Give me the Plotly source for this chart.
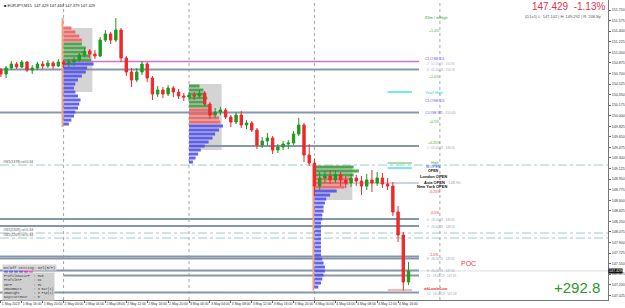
import plotly.graph_objects as go
import pandas as pd

# ---------------- data ----------------
symbol = "EURJPY,M15"
candle_start = "2023-05-01 12:00"      # hourly candles
first_open = 150.756
close = [150.690, 150.790, 150.856, 150.806, 150.889, 150.756, 150.790, 150.856, 150.823, 150.872,
         150.823, 150.889, 150.856, 150.889, 150.922, 151.005, 151.071, 151.021, 150.988, 151.253,
         151.353, 151.253, 151.419, 150.955, 150.723, 150.591, 150.723, 150.856, 150.624, 150.359,
         150.425, 150.359, 150.458, 150.392, 150.326, 150.309, 150.342, 150.326, 150.376, 150.193,
         150.011, 150.061, 150.094, 149.978, 149.895, 150.011, 149.846, 149.879, 149.763, 149.514,
         149.581, 149.630, 149.432, 149.481, 149.531, 149.547, 149.697, 149.846, 149.349, 149.216,
         148.835, 148.968, 149.001, 148.935, 149.018, 148.935, 148.885, 148.968, 148.918, 148.835,
         148.935, 148.885, 148.968, 148.869, 148.835, 148.405, 148.024, 147.246, 147.429]
high = [150.790, 150.823, 150.905, 150.889, 150.922, 150.905, 150.839, 150.889, 150.905, 150.922,
        150.905, 150.939, 150.922, 150.939, 150.972, 151.038, 151.121, 151.104, 151.088, 151.303,
        151.419, 151.386, 151.618, 151.452, 150.988, 150.790, 150.790, 150.905, 150.889, 150.657,
        150.491, 150.475, 150.508, 150.491, 150.442, 150.376, 150.392, 150.392, 150.425, 150.409,
        150.226, 150.127, 150.144, 150.127, 150.011, 150.061, 150.077, 149.928, 149.912, 149.796,
        149.647, 149.713, 149.663, 149.531, 149.581, 149.597, 149.746, 149.962, 149.879, 149.531,
        149.292, 149.067, 149.084, 149.100, 149.100, 149.067, 149.001, 149.034, 149.018, 149.001,
        149.034, 149.100, 149.067, 149.051, 148.968, 148.902, 148.504, 148.074, 147.577]
low = [150.640, 150.624, 150.756, 150.773, 150.790, 150.723, 150.690, 150.756, 150.773, 150.790,
       150.773, 150.806, 150.790, 150.806, 150.823, 150.889, 150.972, 150.955, 150.939, 150.972,
       151.220, 151.187, 151.220, 150.889, 150.657, 150.475, 150.558, 150.674, 150.558, 150.260,
       150.309, 150.293, 150.326, 150.309, 150.276, 150.243, 150.260, 150.260, 150.293, 150.160,
       149.945, 149.962, 150.011, 149.945, 149.812, 149.862, 149.796, 149.779, 149.730, 149.448,
       149.465, 149.498, 149.365, 149.382, 149.432, 149.448, 149.514, 149.663, 149.233, 149.167,
       148.670, 148.769, 148.885, 148.869, 148.885, 148.835, 148.802, 148.819, 148.835, 148.686,
       148.769, 148.736, 148.835, 148.802, 148.769, 148.339, 147.908, 147.102, 147.196]

# daily market profiles: start, price levels, counts (M15 periods), colour codes
profile_starts = ["2023-05-02 00:00", "2023-05-03 00:00", "2023-05-04 00:00"]
profile1_levels = [151.452, 151.386, 151.319, 151.253, 151.187, 151.121, 151.054, 150.988, 150.922, 150.856,
                   150.790, 150.723, 150.657, 150.591, 150.525, 150.458, 150.392, 150.326, 150.260, 150.193,
                   150.127, 150.061, 149.995, 149.928, 149.862]
profile1_counts = [6, 9, 12, 14, 14, 17, 15, 20, 21, 23, 18, 17, 14, 11, 9, 8, 9, 11, 13, 12, 11, 9, 8, 6, 4]
profile1_kind = "rrrrgggggbbbbbbbbbbbbbbbb"
profile2_levels = [150.491, 150.425, 150.359, 150.293, 150.226, 150.160, 150.094, 150.028, 149.962, 149.895,
                   149.829, 149.763, 149.697, 149.630, 149.564, 149.498, 149.432, 149.365, 149.299, 149.233]
profile2_counts = [8, 11, 12, 14, 12, 15, 17, 20, 23, 24, 26, 23, 20, 18, 15, 12, 9, 7, 5, 3]
profile2_kind = "ggggggrrrrbbbbbbbbbb"
profile3_levels = [149.150, 149.084, 149.018, 148.951, 148.885, 148.819, 148.753, 148.686, 148.620, 148.554,
                   148.488, 148.421, 148.355, 148.289, 148.223, 148.156, 148.090, 148.024, 147.958, 147.892,
                   147.825, 147.759, 147.693, 147.627, 147.560, 147.494, 147.428, 147.362, 147.296, 147.229,
                   147.163]
profile3_counts = [30, 34, 30, 27, 26, 23, 17, 12, 9, 8, 7, 7, 6, 6, 5, 5, 5, 5, 5, 5, 5, 5, 5, 6, 7, 8, 8, 7,
                   6, 5, 3]
profile3_kind = "gggrrrbbbbbbbbbbbbbbbbbbbbbbbbb"
value_area_high = [151.452, 150.525, 149.167]
value_area_low = [150.392, 149.432, 148.603]
value_area_counts = [22, 25, 29]
profile_range_high = [151.618, None, 149.183]
profile_range_low = [149.812, None, 147.102]

# horizontal levels
level_prices = [150.897, 150.765, 150.053, 149.498, 148.885, 148.289, 148.173, 147.668, 147.635, 147.436,
                147.353, 147.072]
level_starts = ["2023-05-02 00:00", "2023-05-01 11:00", "2023-05-01 11:00", "2023-05-03 00:00",
                "2023-05-04 00:00", "2023-05-01 11:00", "2023-05-01 11:00", "2023-05-01 11:00",
                "2023-05-01 11:00", "2023-05-01 11:00", "2023-05-02 00:00", "2023-05-01 11:00"]
level_kind = ["close", "lvl", "lvl", "lvl", "thin", "lvl", "lvl", "lvl", "lvl", "lvl", "lvl", "lvl"]
dashdot_prices = [149.183, 148.057, 147.974]
dashdot_texts = ["#W1(1378) ref 0.34", "#W1(2209) ref 0.34", "#W1(2209) ref 0.34"]
day_separators = ["2023-05-02", "2023-05-03", "2023-05-04", "2023-05-05"]

price_ticks = [151.750, 151.575, 151.400, 151.225, 151.050, 150.875, 150.700, 150.525, 150.350, 150.175,
               150.000, 149.825, 149.650, 149.475, 149.300, 149.125, 148.950, 148.775, 148.600, 148.425,
               148.250, 148.075, 147.900, 147.725, 147.550, 147.375, 147.200, 147.025]
time_ticks = ["2023-05-01 12:00", "2023-05-01 16:00", "2023-05-01 20:00", "2023-05-02 00:00",
              "2023-05-02 04:00", "2023-05-02 08:00", "2023-05-02 12:00", "2023-05-02 16:00",
              "2023-05-02 20:00", "2023-05-03 00:00", "2023-05-03 04:00", "2023-05-03 08:00",
              "2023-05-03 12:00", "2023-05-03 16:00", "2023-05-03 20:00", "2023-05-04 00:00",
              "2023-05-04 04:00", "2023-05-04 08:00", "2023-05-04 12:00", "2023-05-04 16:00"]
time_labels = ["1 May 2023", "1 May 16:00", "1 May 20:00", "2 May 00:00", "2 May 04:00", "2 May 08:00",
               "2 May 12:00", "2 May 16:00", "2 May 20:00", "3 May 00:00", "3 May 04:00", "3 May 08:00",
               "3 May 12:00", "3 May 16:00", "3 May 20:00", "4 May 00:00", "4 May 04:00", "4 May 08:00",
               "4 May 12:00", "4 May 16:00"]

last_price = 147.429
change_pct = -1.13
day_low, day_high, day_range = 147.102, 149.292, 208.8
pnl = 292.8

# ---------------- figure ----------------
times = pd.date_range(candle_start, periods=len(close), freq="h")
opens = [first_open] + close[:-1]

GREEN = "#1f9a1f"
RED = "#f02828"
PROF = {"r": "#f25a5a", "g": "#3c9a3c", "b": "#4a4af0"}
LVL = "#8797ab"
FONT = "Liberation Sans"

fig = go.Figure()

# value-area boxes
for st, hi, lo, n in zip(profile_starts, value_area_high, value_area_low, value_area_counts):
    t0 = pd.Timestamp(st)
    fig.add_shape(type="rect", xref="x", yref="y", x0=t0, x1=t0 + pd.Timedelta(minutes=15 * n),
                  y0=lo, y1=hi, fillcolor="#d4d4d4", line=dict(width=0), layer="below")

# horizontal levels
line_end = pd.Timestamp("2023-05-04 20:00")
for p, s, k in zip(level_prices, level_starts, level_kind):
    if k == "close":
        ln = dict(color="#cf72d8", width=1.5)
    elif k == "thin":
        ln = dict(color="#9aa7b8", width=1)
    else:
        ln = dict(color=LVL, width=2)
    fig.add_shape(type="line", xref="x", yref="y", x0=s, x1=line_end, y0=p, y1=p, line=ln, layer="below")

for p in dashdot_prices:
    fig.add_shape(type="line", xref="paper", yref="y", x0=0, x1=1, y0=p, y1=p,
                  line=dict(color="#9ccccc", width=1, dash="dashdot"), layer="below")
# bid line
fig.add_shape(type="line", xref="paper", yref="y", x0=0, x1=1, y0=last_price, y1=last_price,
              line=dict(color="#dcdcdc", width=1), layer="below")

for d in day_separators:
    fig.add_shape(type="line", xref="x", yref="paper", x0=d, x1=d, y0=0, y1=1,
                  line=dict(color="#a8a8a8", width=1, dash="dot"), layer="below")

# profile range (orange) markers
for st, hi, lo in zip(profile_starts, profile_range_high, profile_range_low):
    if hi is None:
        continue
    t0 = pd.Timestamp(st) - pd.Timedelta(minutes=12)
    fig.add_shape(type="line", xref="x", yref="y", x0=t0, x1=t0, y0=lo, y1=hi,
                  line=dict(color="#f7a27e", width=2), layer="below")

# short session markers
short_marks = [(150.392, "#3ee8e8"), (149.134, "#3ee8e8"), (149.216, "#8fd18f"), (147.113, "#f6a0a0")]
for p, c in short_marks:
    fig.add_shape(type="line", xref="x", yref="y", x0="2023-05-04 14:00", x1="2023-05-04 18:40",
                  y0=p, y1=p, line=dict(color=c, width=1.5), layer="below")

# profiles
for st, lv, cnt, kind in [(profile_starts[0], profile1_levels, profile1_counts, profile1_kind),
                          (profile_starts[1], profile2_levels, profile2_counts, profile2_kind),
                          (profile_starts[2], profile3_levels, profile3_counts, profile3_kind)]:
    fig.add_trace(go.Bar(orientation="h", y=lv, x=[c * 15 * 60 * 1000 for c in cnt], base=st,
                         width=0.05, marker=dict(color=[PROF[k] for k in kind], line=dict(width=0)),
                         opacity=0.85, hoverinfo="skip", showlegend=False))

# candles
fig.add_trace(go.Candlestick(x=times, open=opens, high=high, low=low, close=close,
                             increasing=dict(line=dict(color=GREEN, width=1), fillcolor=GREEN),
                             decreasing=dict(line=dict(color=RED, width=1), fillcolor=RED),
                             whiskerwidth=0, showlegend=False))

# ---------------- annotations ----------------
ann = []
LX = "2023-05-04 20:58"
GREY = "#98a4b4"


def lab(y, text, color, size=3.6, x=LX, bold=False):
    if bold:
        text = "<b>" + text + "</b>"
    ann.append(dict(x=x, y=y, xref="x", yref="y", text=text, showarrow=False, xanchor="left",
                    yanchor="middle", borderpad=0, font=dict(size=size, color=color, family=FONT)))


lab(151.62, "83m / mHigh", "#3aaa3a", size=4)
lab(151.40, "+1.4%", "#3aaa3a", x="2023-05-04 21:40")
lab(150.94, "CLOSE D1", "#7060d8", size=4)
lab(150.85, "2 · 01.05.23 : 150.90", "#c8a0e0", size=3, x="2023-05-04 21:20")
lab(150.75, "3 · 01.05.23 : 150.76", GREY, size=3, x="2023-05-04 21:20")
lab(150.64, "+1.0%", "#3aaa3a", x="2023-05-04 21:40")
lab(150.39, "Yearl High", "#22d8e8", size=4)
lab(150.26, "CLOSE D1", "#7060d8", size=4)
lab(150.05, "<span style='color:#5a5ae0'>CLOSE W1</span> : 150.05", GREY, size=3.4)
lab(149.90, "+0.5%", "#3aaa3a", x="2023-05-04 21:40")
lab(149.55, "+0.25%", "#3aaa3a", x="2023-05-04 21:30")
lab(149.47, "1 · 02.05.23 : 149.50", GREY, size=3, x="2023-05-04 21:20")
lab(149.22, "High", "#3aaa3a", x="2023-05-04 22:10")
lab(149.15, "W.OPEN", "#2040ff", x="2023-05-04 21:10")
lab(149.08, "OPEN", "#111111", x="2023-05-04 21:30", bold=True)
lab(149.00, "London OPEN", "#111111", size=4, x="2023-05-04 20:00", bold=True)
lab(148.90, "Asia OPEN <span style='color:#98a4b4;font-weight:normal'>: 148.90</span>", "#111111",
    size=4, x="2023-05-04 20:45", bold=True)
lab(148.82, "New York OPEN", "#111111", size=4, x="2023-05-04 19:30", bold=True)
lab(148.74, "-0.25%", "#f03030", x="2023-05-04 21:40")
lab(148.39, "-0.5%", "#f03030", x="2023-05-04 21:50")
lab(148.28, "6 · 26.04.23 : 148.30", GREY, size=3, x="2023-05-04 21:20")
lab(148.16, "7 · 26.04.23 : 148.18", GREY, size=3, x="2023-05-04 21:20")
lab(147.70, "-1.0%", "#f03030", x="2023-05-04 21:40")
lab(147.63, "8 · 26.04.23 : 147.65", GREY, size=3, x="2023-05-04 21:20")
lab(147.56, "POC", "#f03850", size=7, x="2023-05-05 03:50")
lab(147.43, "9 · 26.04.23 : 147.45", GREY, size=3, x="2023-05-04 21:20")
lab(147.34, "11 · 18.04.23 : 147.35", GREY, size=3, x="2023-05-04 21:20")
lab(147.13, "wkLow/mLow", "#f03030", x="2023-05-04 20:40", bold=True)
lab(147.04, "12 · 18.04.23 : 147.08", GREY, size=3, x="2023-05-04 21:20")

for p, t in zip(dashdot_prices, dashdot_texts):
    ann.append(dict(x=0.003, y=p, xref="paper", yref="y", text=t, showarrow=False, xanchor="left",
                    yanchor="bottom", borderpad=0, font=dict(size=3.5, color="#555555", family=FONT)))

# header texts
ann.append(dict(x=0.004, y=0.997, xref="paper", yref="paper", xanchor="left", yanchor="top",
                text=f"■ {symbol}  147.429 147.460 147.379 {last_price:.3f}", showarrow=False,
                font=dict(size=4, color="#222222", family=FONT)))
ann.append(dict(x=0.996, y=0.978, xref="paper", yref="paper", xanchor="right", yanchor="middle",
                text=f"{last_price:.3f}  {change_pct:.2f}%", showarrow=False, borderpad=0,
                font=dict(size=10, color="#e8304a", family=FONT)))
ann.append(dict(x=0.99, y=0.944, xref="paper", yref="paper", xanchor="right", yanchor="middle",
                text=f"(D1±1) L: {day_low:.3f} | H: {day_high:.3f} | R: {day_range}p", showarrow=False,
                borderpad=0, font=dict(size=4, color="#555555", family=FONT)))
ann.append(dict(x=0.989, y=0.043, xref="paper", yref="paper", xanchor="right", yanchor="middle",
                text=f"+{pnl}", showarrow=False, borderpad=0,
                font=dict(size=15, color="#2a9a2a", family=FONT)))
# price tag on axis
ann.append(dict(x=1.0, y=last_price, xref="paper", yref="y", xanchor="left", yanchor="middle",
                text=f"{last_price:.3f}", showarrow=False, bgcolor="#111111", borderpad=0,
                font=dict(size=3.6, color="#ffffff", family=FONT)))

# bottom-left settings panel
ann.append(dict(x=0.003, y=0.11, xref="paper", yref="paper", xanchor="left", yanchor="middle",
                text="On/Off Setting: Del(R/P)", showarrow=False, bgcolor="#d6d6d6", borderpad=0.5,
                font=dict(size=3.6, color="#333333", family="Liberation Mono")))
panel = ("ProfileDataTF  : M15<br>ProfileTF      : D1<br>ZBTF           : H1<br>"
         "ZBNumBars      : 3 Bar(s)<br>ZBWeight       : 3 Pip(s)<br>DayStartHour   : 0")
ann.append(dict(x=0.003, y=0.093, xref="paper", yref="paper", xanchor="left", yanchor="top",
                text=panel, align="left", showarrow=False, bgcolor="#cfcfcf", borderpad=1,
                font=dict(size=3.3, color="#333333", family="Liberation Mono")))
dot_colors = ["#5a6af0", "#5a6af0", "#5a6af0", "#8a5ad0", "#e040c0", "#f060b0"]
for i, c in enumerate(dot_colors):
    cx = 0.010 + i * 0.0082
    fig.add_shape(type="circle", xref="paper", yref="paper", x0=cx - 0.0035, x1=cx + 0.0035,
                  y0=0.088, y1=0.104, fillcolor=c, line=dict(width=0))

fig.update_layout(
    width=625, height=308,
    margin=dict(l=0, r=15, t=0, b=8),
    paper_bgcolor="white", plot_bgcolor="white",
    showlegend=False, barmode="overlay", boxgap=0.35,
    annotations=ann,
    xaxis=dict(type="date", range=["2023-05-01 11:50", "2023-05-06 08:10"], rangeslider=dict(visible=False),
               tickvals=time_ticks, ticktext=time_labels, ticklabelposition="outside right", tickangle=0,
               tickfont=dict(size=3.4, color="#333333", family=FONT), ticks="outside", ticklen=2,
               tickcolor="#666666", showgrid=False, zeroline=False, showline=True, linecolor="#777777",
               linewidth=1),
    yaxis=dict(side="right", range=[146.948, 151.916], tickvals=price_ticks,
               ticktext=[f"{v:.3f}" for v in price_ticks], tickfont=dict(size=3.6, color="#333333", family=FONT),
               ticks="outside", ticklen=2, tickcolor="#666666", showgrid=False, zeroline=False,
               showline=True, linecolor="#777777", linewidth=1),
)

fig.write_html("out.html")
